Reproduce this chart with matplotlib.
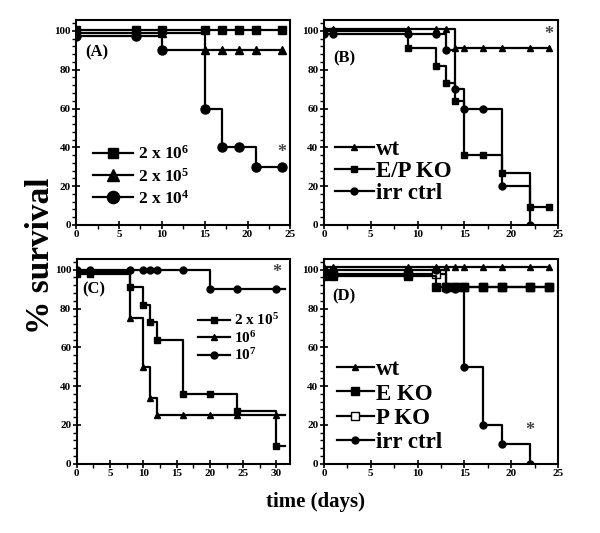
import matplotlib
matplotlib.use("Agg")
import matplotlib.pyplot as plt
from matplotlib.ticker import MultipleLocator

plt.rcParams["font.family"] = ["Liberation Serif", "DejaVu Serif"]
plt.rcParams["font.weight"] = "bold"
plt.rcParams["mathtext.fontset"] = "custom"
plt.rcParams["mathtext.rm"] = "Liberation Serif:bold"
plt.rcParams["mathtext.it"] = "Liberation Serif:bold"
plt.rcParams["mathtext.bf"] = "Liberation Serif:bold"

# panel A
a_days = [0, 7, 10, 15, 17, 19, 21, 24]
a_2e6 = [100.5, 100.5, 100.5, 100.5, 100.5, 100.5, 100.5, 100.5]
a_2e5 = [99, 99, 99, 90, 90, 90, 90, 90]
a_2e4 = [97.5, 97.5, 90, 60, 40, 40, 30, 30]
a_labels = ["2 x 10$^6$", "2 x 10$^5$", "2 x 10$^4$"]

# panel B
b_days = [0, 1, 9, 12, 13, 14, 15, 17, 19, 22, 24]
b_wt = [101, 101, 101, 101, 101, 91, 91, 91, 91, 91, 91]
b_ep = [100, 100, 91, 82, 73, 64, 36, 36, 27, 9, 9]
b_irr = [98.5, 98.5, 98.5, 98.5, 90, 70, 60, 60, 20, 0]
b_labels = ["wt", "E/P KO", "irr ctrl"]

# panel C
c_days = [0, 2, 8, 10, 11, 12, 16, 20, 24, 30, 31.3]
c_2e5 = [98, 98, 91, 82, 73, 64, 36, 36, 27, 9, 9]
c_1e6 = [99, 99, 75, 50, 34, 25, 25, 25, 25, 25, 25]
c_1e7 = [100, 100, 100, 100, 100, 100, 100, 90, 90, 90, 90]
c_labels = ["2 x 10$^5$", "10$^6$", "10$^7$"]

# panel D
d_days = [0, 1, 9, 12, 13, 14, 15, 17, 19, 22, 24]
d_wt = [101.5, 101.5, 101.5, 101.5, 101.5, 101.5, 101.5, 101.5, 101.5, 101.5, 101.5]
d_eko = [97, 97, 97, 91, 91, 91, 91, 91, 91, 91, 91]
d_pko = [98, 98, 98, 98, 91, 91, 91, 91, 91, 91, 91]
d_irr = [100, 100, 100, 100, 90, 90, 50, 20, 10, 0]
d_labels = ["wt", "E KO", "P KO", "irr ctrl"]


def style_axes(ax, xmax, xmajor):
    ax.set_xlim(0, xmax)
    ax.set_ylim(0, 105.5)
    ax.xaxis.set_major_locator(MultipleLocator(xmajor))
    ax.xaxis.set_minor_locator(MultipleLocator(xmajor / 2))
    ax.yaxis.set_major_locator(MultipleLocator(20))
    ax.yaxis.set_minor_locator(MultipleLocator(4))
    ax.tick_params(which="major", direction="inout", length=6, width=1.2,
                   labelsize=8, pad=1)
    ax.tick_params(which="minor", direction="out", length=3, width=1)
    for lab in ax.get_xticklabels() + ax.get_yticklabels():
        lab.set_fontweight("bold")
    for s in ax.spines.values():
        s.set_linewidth(1.5)


def curve(ax, x, y, marker, ms, label, mfc="black", markevery=None):
    return ax.plot(x[:len(y)], y, drawstyle="steps-post", color="black", lw=1.6,
                   marker=marker, ms=ms, mfc=mfc, mec="black", label=label,
                   markevery=markevery)[0]


def serif(size):
    return {"family": "Liberation Serif", "weight": "bold", "size": size}


fig = plt.figure(figsize=(6, 5.33), dpi=100)
axA = fig.add_axes([0.127, 0.578, 0.357, 0.384])
axB = fig.add_axes([0.540, 0.578, 0.390, 0.384])
axC = fig.add_axes([0.128, 0.130, 0.355, 0.384])
axD = fig.add_axes([0.540, 0.130, 0.390, 0.384])

# A
curve(axA, a_days, a_2e6, "s", 5.5, a_labels[0])
curve(axA, a_days, a_2e5, "^", 6, a_labels[1])
curve(axA, a_days, a_2e4, "o", 6.5, a_labels[2])
style_axes(axA, 25, 5)
axA.legend(loc="lower left", bbox_to_anchor=(0.079, 0.085), frameon=False,
           prop=serif(12.5), markerscale=1.35, borderpad=0, borderaxespad=0,
           handlelength=2.3, labelspacing=0.25, handletextpad=0.3)
axA.text(1.0, 89, "(A)", fontsize=12, fontweight="bold", va="center")
axA.text(24, 35, "*", fontsize=13, ha="center", color="#444444")

# B
curve(axB, b_days, b_wt, "^", 5, b_labels[0])
curve(axB, b_days, b_ep, "s", 5, b_labels[1])
curve(axB, b_days, b_irr, "o", 5, b_labels[2])
style_axes(axB, 25, 5)
axB.legend(loc="lower left", bbox_to_anchor=(0.047, 0.1), frameon=False,
           prop=serif(16.5), borderpad=0, borderaxespad=0,
           handlelength=1.7, labelspacing=0.05, handletextpad=0.1)
axB.text(1.0, 86, "(B)", fontsize=12, fontweight="bold", va="center")
axB.text(24, 96, "*", fontsize=13, ha="center", color="#444444")

# C
last = list(range(len(c_days) - 1))
curve(axC, c_days, c_2e5, "s", 5, c_labels[0], markevery=last)
curve(axC, c_days, c_1e6, "^", 4, c_labels[1], markevery=last)
curve(axC, c_days, c_1e7, "o", 5, c_labels[2], markevery=last)
style_axes(axC, 32, 5)
axC.legend(loc="upper left", bbox_to_anchor=(0.568, 0.74), frameon=False,
           prop=serif(11), borderpad=0, borderaxespad=0,
           handlelength=2.1, labelspacing=0.1, handletextpad=0.3)
axC.text(0.8, 90, "(C)", fontsize=12, fontweight="bold", va="center")
axC.text(30, 96, "*", fontsize=13, ha="center", color="#444444")

# D
curve(axD, d_days, d_wt, "^", 5, d_labels[0])
curve(axD, d_days, d_pko, "s", 5.5, d_labels[2], mfc="white")
curve(axD, d_days, d_eko, "s", 5.5, d_labels[1])
curve(axD, d_days, d_irr, "o", 5, d_labels[3])
style_axes(axD, 25, 5)
h, l = axD.get_legend_handles_labels()
order = [0, 2, 1, 3]
axD.legend([h[i] for i in order], [l[i] for i in order],
           loc="lower left", bbox_to_anchor=(0.056, 0.05), frameon=False,
           prop=serif(16.5), borderpad=0, borderaxespad=0,
           handlelength=1.6, labelspacing=0.15, handletextpad=0.1)
axD.text(0.9, 86, "(D)", fontsize=12, fontweight="bold", va="center")
axD.text(22, 15, "*", fontsize=13, ha="center", color="#444444")

fig.text(0.067, 0.52, "% survival", rotation=90, fontsize=24, fontweight="bold",
         ha="center", va="center")
fig.text(0.525, 0.058, "time (days)", fontsize=15, fontweight="bold",
         ha="center", va="center")

fig.savefig("out.png", dpi=100)
